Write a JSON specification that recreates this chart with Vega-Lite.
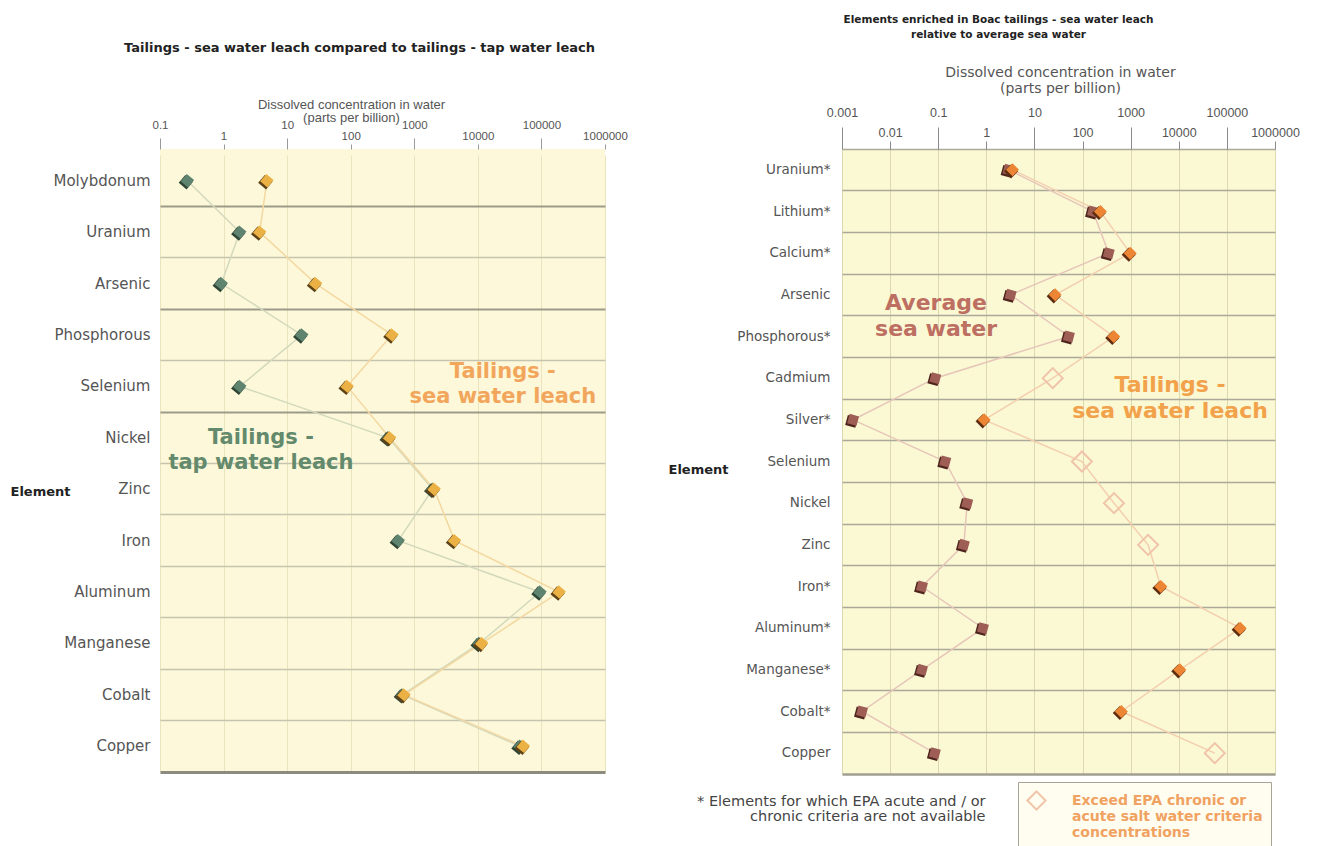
{
  "$schema": "https://vega.github.io/schema/vega-lite/v6.json",
  "background": "white",
  "padding": {"left": 10, "top": 14, "right": 0, "bottom": 0},
  "spacing": 40,
  "config": {"view": {"stroke": null}},
  "datasets": {
    "left": [
      {"element": "Molybdonum", "series": "tap", "value": 0.27, "i": 1},
      {"element": "Uranium", "series": "tap", "value": 1.8, "i": 2},
      {"element": "Arsenic", "series": "tap", "value": 0.92, "i": 3},
      {"element": "Phosphorous", "series": "tap", "value": 17, "i": 4},
      {"element": "Selenium", "series": "tap", "value": 1.8, "i": 5},
      {"element": "Nickel", "series": "tap", "value": 390, "i": 6},
      {"element": "Zinc", "series": "tap", "value": 1950, "i": 7},
      {"element": "Iron", "series": "tap", "value": 560, "i": 8},
      {"element": "Aluminum", "series": "tap", "value": 95000, "i": 9},
      {"element": "Manganese", "series": "tap", "value": 10500, "i": 10},
      {"element": "Cobalt", "series": "tap", "value": 650, "i": 11},
      {"element": "Copper", "series": "tap", "value": 46000, "i": 12},
      {"element": "Molybdonum", "series": "sea", "value": 4.8, "i": 1},
      {"element": "Uranium", "series": "sea", "value": 3.7, "i": 2},
      {"element": "Arsenic", "series": "sea", "value": 28, "i": 3},
      {"element": "Phosphorous", "series": "sea", "value": 445, "i": 4},
      {"element": "Selenium", "series": "sea", "value": 88, "i": 5},
      {"element": "Nickel", "series": "sea", "value": 410, "i": 6},
      {"element": "Zinc", "series": "sea", "value": 2050, "i": 7},
      {"element": "Iron", "series": "sea", "value": 4300, "i": 8},
      {"element": "Aluminum", "series": "sea", "value": 190000, "i": 9},
      {"element": "Manganese", "series": "sea", "value": 11500, "i": 10},
      {"element": "Cobalt", "series": "sea", "value": 690, "i": 11},
      {"element": "Copper", "series": "sea", "value": 52000, "i": 12}
    ],
    "right": [
      {"element": "Uranium*", "series": "avg", "value": 2.9, "exceed": false, "i": 1},
      {"element": "Lithium*", "series": "avg", "value": 165, "exceed": false, "i": 2},
      {"element": "Calcium*", "series": "avg", "value": 350, "exceed": false, "i": 3},
      {"element": "Arsenic", "series": "avg", "value": 3.2, "exceed": false, "i": 4},
      {"element": "Phosphorous*", "series": "avg", "value": 52, "exceed": false, "i": 5},
      {"element": "Cadmium", "series": "avg", "value": 0.087, "exceed": false, "i": 6},
      {"element": "Silver*", "series": "avg", "value": 0.0017, "exceed": false, "i": 7},
      {"element": "Selenium", "series": "avg", "value": 0.14, "exceed": false, "i": 8},
      {"element": "Nickel", "series": "avg", "value": 0.4, "exceed": false, "i": 9},
      {"element": "Zinc", "series": "avg", "value": 0.34, "exceed": false, "i": 10},
      {"element": "Iron*", "series": "avg", "value": 0.046, "exceed": false, "i": 11},
      {"element": "Aluminum*", "series": "avg", "value": 0.85, "exceed": false, "i": 12},
      {"element": "Manganese*", "series": "avg", "value": 0.046, "exceed": false, "i": 13},
      {"element": "Cobalt*", "series": "avg", "value": 0.0026, "exceed": false, "i": 14},
      {"element": "Copper", "series": "avg", "value": 0.085, "exceed": false, "i": 15},
      {"element": "Uranium*", "series": "tail", "value": 3.5, "exceed": false, "i": 1},
      {"element": "Lithium*", "series": "tail", "value": 235, "exceed": false, "i": 2},
      {"element": "Calcium*", "series": "tail", "value": 980, "exceed": false, "i": 3},
      {"element": "Arsenic", "series": "tail", "value": 27, "exceed": false, "i": 4},
      {"element": "Phosphorous*", "series": "tail", "value": 445, "exceed": false, "i": 5},
      {"element": "Cadmium", "series": "tail", "value": 24, "exceed": true, "i": 6},
      {"element": "Silver*", "series": "tail", "value": 0.9, "exceed": false, "i": 7},
      {"element": "Selenium", "series": "tail", "value": 97, "exceed": true, "i": 8},
      {"element": "Nickel", "series": "tail", "value": 450, "exceed": true, "i": 9},
      {"element": "Zinc", "series": "tail", "value": 2300, "exceed": true, "i": 10},
      {"element": "Iron*", "series": "tail", "value": 4250, "exceed": false, "i": 11},
      {"element": "Aluminum*", "series": "tail", "value": 189000, "exceed": false, "i": 12},
      {"element": "Manganese*", "series": "tail", "value": 10500, "exceed": false, "i": 13},
      {"element": "Cobalt*", "series": "tail", "value": 640, "exceed": false, "i": 14},
      {"element": "Copper", "series": "tail", "value": 56000, "exceed": true, "i": 15}
    ],
    "leftNotes": [
      {"note": "Tailings -\nsea water leach", "value": 24700, "element": "Selenium", "kind": "sea"},
      {"note": "Tailings -\ntap water leach", "value": 3.87, "element": "Nickel", "kind": "tap"}
    ],
    "rightNotes": [
      {"note": "Average\nsea water", "value": 0.09, "element": "Phosphorous*", "kind": "avg"},
      {"note": "Tailings -\nsea water leach", "value": 6590, "element": "Silver*", "kind": "tail"}
    ]
  },
  "hconcat": [
    {
      "width": 445,
      "height": 623,
      "view": {"fill": "#fdf8d9", "stroke": null},
      "title": {
        "text": "Tailings - sea water leach compared to tailings - tap water leach",
        "font": "DejaVu Sans", "fontSize": 13, "fontWeight": "bold", "color": "#222222",
        "frame": "group", "anchor": "middle", "dx": -23, "offset": 44
      },
      "resolve": {"axis": {"x": "independent"}},
      "encoding": {
        "x": {"field": "value", "type": "quantitative", "scale": {"type": "log", "domain": [0.1, 1000000]}, "axis": null},
        "y": {"field": "element", "type": "nominal",
          "scale": {"type": "band", "paddingInner": 0, "paddingOuter": 0, "range": [6, 623],
            "domain": ["Molybdonum", "Uranium", "Arsenic", "Phosphorous", "Selenium", "Nickel", "Zinc", "Iron", "Aluminum", "Manganese", "Cobalt", "Copper"]}}
      },
      "layer": [
        {
          "data": {"name": "left"},
          "transform": [{"filter": "datum.series === 'tap'"}],
          "mark": {"type": "line", "stroke": "#d3d9bd", "strokeWidth": 1.5},
          "encoding": {
            "x": {"field": "value", "type": "quantitative", "scale": {"type": "log", "domain": [0.1, 1000000]},
              "axis": {
                "orient": "top",
                "values": [0.1, 1, 10, 100, 1000, 10000, 100000, 1000000],
                "labelExpr": "toString(datum.value)",
                "labelFlush": false, "labelOverlap": false,
                "labelFont": "Liberation Sans", "labelFontSize": 11.5, "labelColor": "#555555",
                "labelPadding": {"condition": {"test": "indexof([0.1, 10, 1000, 100000], datum.value) >= 0", "value": 8}, "value": 3},
                "tickSize": {"condition": {"test": "indexof([0.1, 10, 1000, 100000], datum.value) >= 0", "value": 11}, "value": 5},
                "tickColor": "#9a9a9a", "tickWidth": 1,
                "domain": false,
                "grid": true, "gridColor": "#ebe3bd", "gridWidth": 1,
                "title": ["Dissolved concentration in water", "(parts per billion)"],
                "titleFont": "Liberation Sans", "titleFontSize": 13, "titleFontWeight": "normal", "titleColor": "#555555",
                "titleX": 191, "titleY": -44.5, "titleAlign": "center", "titleBaseline": "middle", "titleLineHeight": 13
              }
            },
            "y": {"field": "element", "type": "nominal",
              "axis": {
                "orient": "left",
                "title": "Element", "titleAngle": 0, "titleX": -150, "titleY": 342, "titleAlign": "left", "titleBaseline": "middle",
                "titleFont": "DejaVu Sans", "titleFontSize": 13, "titleFontWeight": "bold", "titleColor": "#222222",
                "labelFont": "DejaVu Sans", "labelFontSize": 15, "labelColor": "#555555", "labelPadding": 10,
                "ticks": false, "domain": false,
                "grid": true, "bandPosition": 0,
                "gridColor": {"condition": {"test": "indexof(['Uranium', 'Phosphorous', 'Nickel'], datum.value) >= 0", "value": "#9c9b8a"}, "value": "#c6c4ae"},
                "gridWidth": {"condition": {"test": "indexof(['Uranium', 'Phosphorous', 'Nickel'], datum.value) >= 0", "value": 2}, "value": 1.5},
                "gridOpacity": {"condition": {"test": "datum.value === 'Molybdonum'", "value": 0}, "value": 1}
              }
            },
            "order": {"field": "i", "type": "quantitative"}
          }
        },
        {
          "data": {"name": "left"},
          "transform": [{"filter": "datum.series === 'sea'"}],
          "mark": {"type": "line", "stroke": "#f4d8a2", "strokeWidth": 1.5},
          "encoding": {
            "x": {"field": "value", "type": "quantitative", "scale": {"type": "log", "domain": [0.1, 1000000]},
              "axis": {"orient": "bottom", "labels": false, "ticks": false, "grid": false, "title": null,
                "domain": true, "domainColor": "#8c8b80", "domainWidth": 3}},
            "order": {"field": "i", "type": "quantitative"}
          }
        },
        {
          "data": {"name": "left"},
          "transform": [{"filter": "datum.series === 'tap'"}],
          "mark": {"type": "point", "shape": "square", "angle": 40, "size": 105, "filled": true, "opacity": 1, "color": "#2f4636", "xOffset": -1.5, "yOffset": 1.5}
        },
        {
          "data": {"name": "left"},
          "transform": [{"filter": "datum.series === 'tap'"}],
          "mark": {"type": "point", "shape": "square", "angle": 40, "size": 90, "filled": true, "opacity": 1, "color": "#5e8470"}
        },
        {
          "data": {"name": "left"},
          "transform": [{"filter": "datum.series === 'sea'"}],
          "mark": {"type": "point", "shape": "square", "angle": 40, "size": 105, "filled": true, "opacity": 1, "color": "#5c4216", "xOffset": -1.5, "yOffset": 1.5}
        },
        {
          "data": {"name": "left"},
          "transform": [{"filter": "datum.series === 'sea'"}],
          "mark": {"type": "point", "shape": "square", "angle": 40, "size": 90, "filled": true, "opacity": 1, "color": "#ebb144"}
        },
        {
          "data": {"name": "leftNotes"},
          "transform": [{"filter": "datum.kind === 'sea'"}],
          "mark": {"type": "text", "font": "DejaVu Sans", "fontSize": 21, "fontWeight": "bold", "color": "#f2a65c", "lineBreak": "\n", "lineHeight": 25, "align": "center", "baseline": "middle", "dy": -14},
          "encoding": {"text": {"field": "note"}}
        },
        {
          "data": {"name": "leftNotes"},
          "transform": [{"filter": "datum.kind === 'tap'"}],
          "mark": {"type": "text", "font": "DejaVu Sans", "fontSize": 21, "fontWeight": "bold", "color": "#638a6c", "lineBreak": "\n", "lineHeight": 25, "align": "center", "baseline": "middle", "dy": 0},
          "encoding": {"text": {"field": "note"}}
        }
      ]
    },
    {
      "width": 433,
      "height": 625,
      "view": {"fill": "#fbf8d4", "stroke": null},
      "title": {
        "text": ["Elements enriched in Boac tailings - sea water leach", "relative to average sea water"],
        "font": "DejaVu Sans", "fontSize": 10.5, "fontWeight": "bold", "color": "#222222", "lineHeight": 15,
        "frame": "group", "anchor": "middle", "dx": -60, "offset": 25
      },
      "resolve": {"axis": {"x": "independent"}},
      "encoding": {
        "x": {"field": "value", "type": "quantitative", "scale": {"type": "log", "domain": [0.001, 1000000]}, "axis": null},
        "y": {"field": "element", "type": "nominal",
          "scale": {"type": "band", "paddingInner": 0, "paddingOuter": 0,
            "domain": ["Uranium*", "Lithium*", "Calcium*", "Arsenic", "Phosphorous*", "Cadmium", "Silver*", "Selenium", "Nickel", "Zinc", "Iron*", "Aluminum*", "Manganese*", "Cobalt*", "Copper"]}}
      },
      "layer": [
        {
          "data": {"name": "right"},
          "transform": [{"filter": "datum.series === 'avg'"}],
          "mark": {"type": "line", "stroke": "#e6c6b8", "strokeWidth": 1.5},
          "encoding": {
            "x": {"field": "value", "type": "quantitative", "scale": {"type": "log", "domain": [0.001, 1000000]},
              "axis": {
                "orient": "top",
                "values": [0.001, 0.01, 0.1, 1, 10, 100, 1000, 10000, 100000, 1000000],
                "labelExpr": "toString(datum.value)",
                "labelFlush": false, "labelOverlap": false,
                "labelFont": "Liberation Sans", "labelFontSize": 12.5, "labelColor": "#555555",
                "labelPadding": {"condition": {"test": "indexof([0.001, 0.1, 10, 1000, 100000], datum.value) >= 0", "value": 8}, "value": 2},
                "tickSize": {"condition": {"test": "indexof([0.001, 0.1, 10, 1000, 100000], datum.value) >= 0", "value": 22}, "value": 8},
                "tickColor": "#8a8a8a", "tickWidth": 1,
                "domain": false,
                "grid": true, "gridColor": "#ddd8ae", "gridWidth": 1,
                "title": ["Dissolved concentration in water", "(parts per billion)"],
                "titleFont": "DejaVu Sans", "titleFontSize": 14, "titleFontWeight": "normal", "titleColor": "#555555",
                "titleX": 218, "titleY": -77, "titleAlign": "center", "titleBaseline": "middle", "titleLineHeight": 16
              }
            },
            "y": {"field": "element", "type": "nominal",
              "axis": {
                "orient": "left",
                "title": "Element", "titleAngle": 0, "titleX": -174, "titleY": 320, "titleAlign": "left", "titleBaseline": "middle",
                "titleFont": "DejaVu Sans", "titleFontSize": 13, "titleFontWeight": "bold", "titleColor": "#222222",
                "labelFont": "DejaVu Sans", "labelFontSize": 13.5, "labelColor": "#555555", "labelPadding": 12,
                "ticks": false, "domain": false,
                "grid": true, "bandPosition": 0, "gridColor": "#aaa99a", "gridWidth": 1.5
              }
            },
            "order": {"field": "i", "type": "quantitative"}
          }
        },
        {
          "data": {"name": "right"},
          "transform": [{"filter": "datum.series === 'tail'"}],
          "mark": {"type": "line", "stroke": "#f3cfae", "strokeWidth": 1.5},
          "encoding": {
            "x": {"field": "value", "type": "quantitative", "scale": {"type": "log", "domain": [0.001, 1000000]},
              "axis": {"orient": "bottom", "labels": false, "ticks": false, "grid": false,
                "domain": true, "domainColor": "#a09f92", "domainWidth": 2.5,
                "title": ["* Elements for which EPA acute and / or", "chronic criteria are not available"],
                "titleFont": "DejaVu Sans", "titleFontSize": 14.5, "titleFontWeight": "normal", "titleColor": "#444444",
                "titleX": 143, "titleY": 20, "titleAlign": "right", "titleBaseline": "top", "titleLineHeight": 15}},
            "order": {"field": "i", "type": "quantitative"}
          }
        },
        {
          "data": {"name": "right"},
          "transform": [{"filter": "datum.series === 'avg'"}],
          "mark": {"type": "point", "shape": "square", "angle": 15, "size": 110, "filled": true, "opacity": 1, "color": "#4e241c", "xOffset": -1.5, "yOffset": 1.5}
        },
        {
          "data": {"name": "right"},
          "transform": [{"filter": "datum.series === 'avg'"}],
          "mark": {"type": "point", "shape": "square", "angle": 15, "size": 95, "filled": true, "opacity": 1, "color": "#9e5e56"}
        },
        {
          "data": {"name": "right"},
          "transform": [{"filter": "datum.series === 'tail' && !datum.exceed"}],
          "mark": {"type": "point", "shape": "square", "angle": 45, "size": 100, "filled": true, "opacity": 1, "color": "#5e2c10", "xOffset": -1.5, "yOffset": 1.5}
        },
        {
          "data": {"name": "right"},
          "transform": [{"filter": "datum.series === 'tail' && !datum.exceed"}],
          "mark": {"type": "point", "shape": "square", "angle": 45, "size": 85, "filled": true, "opacity": 1, "color": "#ec8634"}
        },
        {
          "data": {"name": "right"},
          "transform": [{"filter": "datum.series === 'tail' && datum.exceed"}],
          "mark": {"type": "point", "size": 400, "filled": false, "opacity": 1, "stroke": "#f0c4a8", "strokeWidth": 2},
          "encoding": {
            "shape": {"field": "exceed", "type": "nominal", "scale": {"range": ["diamond"]},
              "legend": {
                "title": null, "orient": "none", "legendX": 858, "legendY": 633,
                "labelExpr": "['Exceed EPA chronic or', 'acute salt water criteria', 'concentrations']",
                "labelFont": "DejaVu Sans", "labelFontSize": 14, "labelFontWeight": "bold", "labelColor": "#f0a262",
                "labelLimit": 300, "labelOffset": 25,
                "symbolType": "diamond", "symbolSize": 330, "symbolStrokeColor": "#f0c4a8", "symbolStrokeWidth": 2, "symbolFillColor": "transparent",
                "strokeColor": "#a8a498", "fillColor": "#fffdf0", "padding": 8, "cornerRadius": 0
              }}
          }
        },
        {
          "data": {"name": "rightNotes"},
          "transform": [{"filter": "datum.kind === 'avg'"}],
          "mark": {"type": "text", "font": "DejaVu Sans", "fontSize": 22, "fontWeight": "bold", "color": "#bd6f62", "lineBreak": "\n", "lineHeight": 26, "align": "center", "baseline": "middle", "dy": -34},
          "encoding": {"text": {"field": "note"}}
        },
        {
          "data": {"name": "rightNotes"},
          "transform": [{"filter": "datum.kind === 'tail'"}],
          "mark": {"type": "text", "font": "DejaVu Sans", "fontSize": 22, "fontWeight": "bold", "color": "#f2a24a", "lineBreak": "\n", "lineHeight": 26, "align": "center", "baseline": "middle", "dy": -35},
          "encoding": {"text": {"field": "note"}}
        }
      ]
    }
  ]
}
